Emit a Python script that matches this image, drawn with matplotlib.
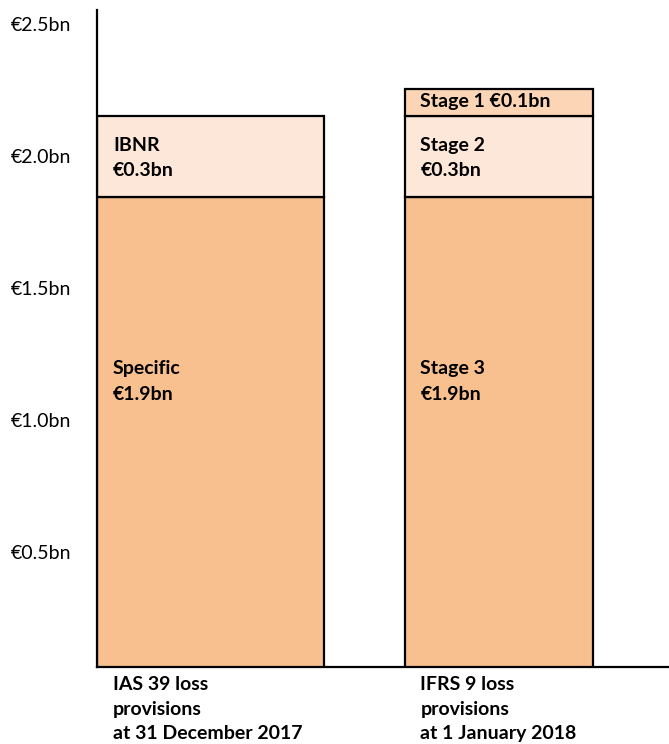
import matplotlib
matplotlib.use("Agg")
import matplotlib.pyplot as plt

# data (EUR bn)
cats = ["IAS 39 loss\nprovisions\nat 31 December 2017",
        "IFRS 9 loss\nprovisions\nat 1 January 2018"]
bottom_vals = [1.845, 1.845]     # Specific / Stage 3
middle_vals = [0.31, 0.31]       # IBNR / Stage 2
top_vals = [0.0, 0.10]           # - / Stage 1
bottom_labels = [["Specific", "€1.9bn"], ["Stage 3", "€1.9bn"]]
middle_labels = [["IBNR", "€0.3bn"], ["Stage 2", "€0.3bn"]]
top_labels = [None, "Stage 1 €0.1bn"]
yticks = [0.5, 1.0, 1.5, 2.0, 2.5]
yticklabels = ["€0.5bn", "€1.0bn", "€1.5bn", "€2.0bn", "€2.5bn"]

plt.rcParams['font.family'] = ['Lato', 'DejaVu Sans']

fig = plt.figure(figsize=(6.69, 7.44), dpi=100)
ax = fig.add_axes([0.1457, 0.1035, 0.8543, 0.8831])

x = [0, 1]
widths = [0.788, 0.653]
c_bot = "#F8C08F"
c_mid = "#FCE7D9"
c_top = "#FBD5B5"
ec = "black"
lw = 1.6
fs = 14

ax.bar(x, bottom_vals, width=widths, color=c_bot, edgecolor=ec, linewidth=lw)
ax.bar(x, middle_vals, width=widths, bottom=bottom_vals, color=c_mid,
       edgecolor=ec, linewidth=lw)
top_base = [b + m for b, m in zip(bottom_vals, middle_vals)]
ax.bar(x[1], top_vals[1], width=widths[1], bottom=top_base[1], color=c_top,
       edgecolor=ec, linewidth=lw)

ymin = 0.066


def put(xv, yv, txt, dx, dy):
    # dx, dy offsets in pixels (dpi 100)
    ax.annotate(txt, (xv, yv), xytext=(dx * 0.72, -dy * 0.72),
                textcoords="offset points", fontsize=fs, fontweight="bold",
                ha="left", va="baseline", annotation_clip=False)


for i in x:
    left = i - widths[i] / 2
    mtop = top_base[i]
    for k, line in enumerate(middle_labels[i]):
        put(left, mtop, line, 15.5, 35.5 + 25 * k)
    for k, line in enumerate(bottom_labels[i]):
        put(left, bottom_vals[i], line, 15.5, 176.5 + 26.5 * k)
    if top_labels[i]:
        put(left, mtop + top_vals[i], top_labels[i], 15.5, 17.8)
    for k, line in enumerate(cats[i].split("\n")):
        put(left, ymin, line, 15.5, 23.5 + 24.5 * k)

ax.set_xlim(-widths[0] / 2, 1.590)
ax.set_ylim(ymin, 2.555)
ax.set_yticks(yticks)
ax.set_yticklabels(yticklabels, fontsize=fs)
ax.tick_params(axis="y", length=0, pad=19)
ax.set_xticks([])
for s in ["top", "right"]:
    ax.spines[s].set_visible(False)
ax.spines["left"].set_linewidth(lw)
ax.spines["bottom"].set_linewidth(lw)

fig.savefig("out.png", dpi=100)
